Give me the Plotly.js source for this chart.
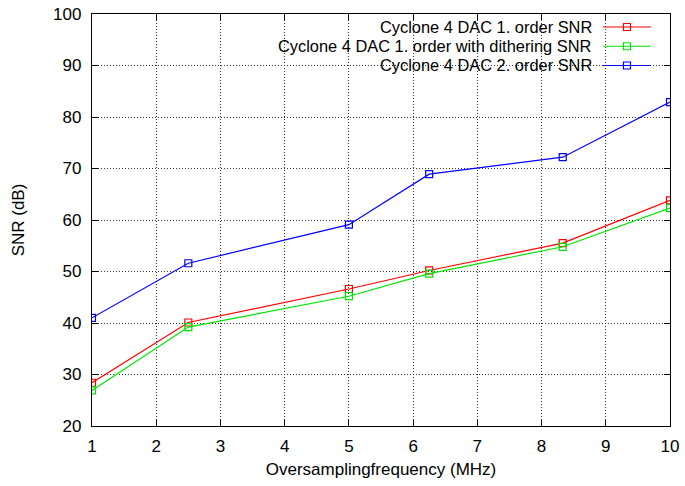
<!DOCTYPE html>
<html>
<head>
<meta charset="utf-8">
<script src="https://cdn.plot.ly/plotly-3.0.1.min.js"></script>
<style>html,body{margin:0;padding:0;background:#fff;}#chart{width:685px;height:486px;}</style>
</head>
<body>
<div id="chart"></div>
<script>
// Data
const freqMHz = [1, 2.5, 5, 6.25, 8.33, 10];
const snrFirstOrder = [28.4, 40.1, 46.6, 50.2, 55.5, 63.8];
const snrFirstOrderDither = [26.9, 39.2, 45.2, 49.6, 54.8, 62.3];
const snrSecondOrder = [41.0, 51.6, 59.1, 68.9, 72.2, 82.9];
const seriesNames = [
  "Cyclone 4 DAC 1. order SNR",
  "Cyclone 4 DAC 1. order with dithering SNR",
  "Cyclone 4 DAC 2. order SNR"
];
const seriesColors = ["#ff0000", "#00e600", "#0000ff"];
const xTicks = [1, 2, 3, 4, 5, 6, 7, 8, 9, 10];
const yTicks = [20, 30, 40, 50, 60, 70, 80, 90, 100];

const FONT = "Liberation Sans, Arial, Helvetica, sans-serif";
const ys = [snrFirstOrder, snrFirstOrderDither, snrSecondOrder];

const traces = ys.map((y, i) => ({
  x: freqMHz, y: y, type: "scatter", mode: "lines+markers",
  name: "",
  line: {color: seriesColors[i], width: 1.2},
  marker: {symbol: "square-open", size: 7, color: seriesColors[i], line: {width: 1.2, color: seriesColors[i]}},
  hoverinfo: "x+y"
}));

// legend text rows (right aligned, gnuplot style)
const rowY = [0.968, 0.922, 0.876];
const annotations = seriesNames.map((n, i) => ({
  xref: "paper", yref: "paper", x: 0.866, y: rowY[i],
  xanchor: "right", yanchor: "middle", showarrow: false, borderpad: 0,
  text: n, font: {family: FONT, size: 16.4, color: "#000"}
}));

const axisCommon = {
  showline: true, mirror: "ticks", linecolor: "#000", linewidth: 1.2,
  ticks: "inside", ticklen: 6, tickcolor: "#000", tickwidth: 1,
  showgrid: true, gridcolor: "#333", griddash: "1px,2px", gridwidth: 1,
  zeroline: false, tickfont: {family: FONT, size: 17, color: "#000"}
};

const layout = {
  width: 685, height: 486,
  margin: {l: 92, r: 15, t: 14, b: 60},
  paper_bgcolor: "#fff", plot_bgcolor: "#fff",
  font: {family: FONT, size: 17, color: "#000"},
  xaxis: Object.assign({}, axisCommon, {
    range: [1, 10], tickvals: xTicks, ticktext: xTicks.map(String),
    ticklabelstandoff: 4,
    title: {text: "Oversamplingfrequency (MHz)", font: {family: FONT, size: 17, color: "#000"}, standoff: 8}
  }),
  yaxis: Object.assign({}, axisCommon, {
    range: [20, 100], tickvals: yTicks, ticktext: yTicks.map(String),
    ticklabelstandoff: 6,
    title: {text: "SNR (dB)", font: {family: FONT, size: 17, color: "#000"}, standoff: 24}
  }),
  showlegend: true,
  legend: {
    x: 0.8754, xanchor: "left", y: 1.004, yanchor: "top",
    bgcolor: "rgba(0,0,0,0)", borderwidth: 0, itemwidth: 48,
    font: {family: FONT, size: 12.5}, traceorder: "normal"
  },
  shapes: [{
    type: "rect", xref: "paper", yref: "paper", layer: "between",
    x0: 0.116, x1: 0.998, y0: 0.86, y1: 0.998,
    fillcolor: "#fff", line: {width: 0}
  }],
  annotations: annotations
};

Plotly.newPlot("chart", traces, layout, {displayModeBar: false, staticPlot: true});
</script>
</body>
</html>
